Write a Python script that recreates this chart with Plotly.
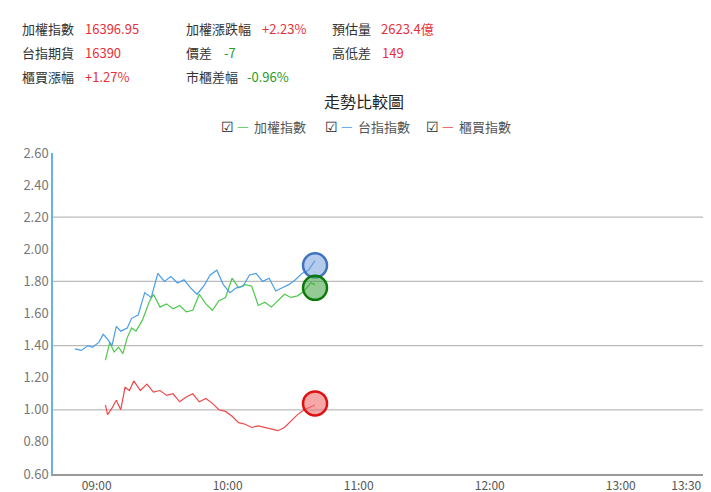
import plotly.graph_objects as go

D = "2024-01-01 "
blue_t = ["08:50","08:53","08:56","08:58","09:01","09:03","09:05","09:07","09:09","09:11","09:14","09:16","09:19","09:22","09:25","09:28","09:31","09:34","09:37","09:40","09:43","09:46","09:49","09:52","09:55","09:58","10:01","10:04","10:07","10:10","10:13","10:16","10:19","10:22","10:25","10:28","10:31","10:34","10:37","10:40"]
blue_v = [1.38,1.37,1.40,1.39,1.42,1.47,1.44,1.40,1.52,1.49,1.51,1.57,1.59,1.73,1.70,1.85,1.80,1.83,1.79,1.81,1.76,1.72,1.77,1.84,1.87,1.78,1.73,1.76,1.77,1.84,1.85,1.80,1.82,1.74,1.76,1.78,1.81,1.85,1.87,1.93]
green_t = ["09:04","09:06","09:08","09:10","09:12","09:14","09:16","09:18","09:21","09:24","09:26","09:29","09:32","09:35","09:38","09:41","09:44","09:47","09:50","09:53","09:56","09:59","10:02","10:05","10:08","10:11","10:14","10:17","10:20","10:23","10:26","10:29","10:32","10:35","10:38","10:40"]
green_v = [1.31,1.42,1.36,1.39,1.35,1.45,1.51,1.49,1.56,1.67,1.72,1.64,1.66,1.63,1.65,1.61,1.62,1.72,1.66,1.62,1.68,1.70,1.82,1.76,1.78,1.77,1.65,1.67,1.64,1.68,1.72,1.70,1.71,1.74,1.79,1.78]
red_t = ["09:04","09:05","09:07","09:09","09:11","09:13","09:15","09:17","09:20","09:23","09:26","09:29","09:32","09:35","09:38","09:41","09:44","09:47","09:50","09:53","09:56","09:59","10:02","10:05","10:08","10:11","10:14","10:17","10:20","10:23","10:26","10:29","10:32","10:35","10:38","10:40"]
red_v = [1.03,0.97,1.01,1.06,1.00,1.14,1.12,1.18,1.12,1.16,1.11,1.12,1.09,1.10,1.05,1.08,1.10,1.05,1.07,1.04,1.00,0.99,0.96,0.92,0.91,0.89,0.90,0.89,0.88,0.87,0.89,0.93,0.97,1.00,1.02,1.03]
end_t = "10:40"
end_v = {"green": 1.76, "blue": 1.90, "red": 1.04}
y_ticks = [0.6,0.8,1.0,1.2,1.4,1.6,1.8,2.0,2.2,2.4,2.6]
grid_vals = [1.0,1.4,1.8,2.2]
x_ticks = ["09:00","10:00","11:00","12:00","13:00","13:30"]

header = [
    ("加權指數","16396.95","#e8303a",12,75,20),
    ("台指期貨","16390","#e8303a",12,75,44),
    ("櫃買漲幅","+1.27%","#e8303a",12,75,68),
    ("加權漲跌幅","+2.23%","#e8303a",176,252,20),
    ("價差","-7","#2a9a2a",176,214,44),
    ("市櫃差幅","-0.96%","#2a9a2a",176,237,68),
    ("預估量","2623.4億","#e8303a",322,371,20),
    ("高低差","149","#e8303a",322,372,44),
]

FONT = "Noto Sans CJK TC"
W, H = 711, 492
ML, MR, MT, MB = 45, 0, 145, 26
PW, PH = W - ML - MR, H - MT - MB
fig = go.Figure()
for t, v, c in [(green_t, green_v, "#4cc94c"), (blue_t, blue_v, "#4a9ee8"), (red_t, red_v, "#f04848")]:
    fig.add_trace(go.Scatter(x=[D+s for s in t], y=v, mode="lines", line=dict(color=c, width=1.2), hoverinfo="skip"))
for k, fill, edge in [("blue","rgba(120,160,220,0.55)","#3f73c0"),("green","rgba(60,160,60,0.55)","#0b7a0b"),("red","rgba(240,110,110,0.6)","#e01010")]:
    fig.add_trace(go.Scatter(x=[D+end_t], y=[end_v[k]], mode="markers", cliponaxis=False,
                             marker=dict(size=24, color=fill, line=dict(color=edge, width=2.5)), hoverinfo="skip"))
for g in grid_vals:
    fig.add_shape(type="line", xref="paper", x0=0, x1=1, yref="y", y0=g, y1=g, line=dict(color="#bbbbbb", width=1.3), layer="below")

ann = []
def px(x, y, text, color="#333", size=13, anchor="left"):
    ann.append(dict(xref="paper", yref="paper", x=(x-ML)/PW, y=(H-MB-y)/PH, text=text, showarrow=False,
                    xanchor=anchor, yanchor="middle", font=dict(family=FONT, size=size, color=color)))
for lab, val, c, lx, vx, y in header:
    px(lx, y, lab)
    px(vx, y, val, c)
px(356, 93, "走勢比較圖", "#222", 16, "center")
for x0, name, c in [(211,"加權指數","#4cc94c"),(315,"台指指數","#4a9ee8"),(416,"櫃買指數","#f04848")]:
    px(x0, 118, "☑", "#222", 14)
    px(x0+16, 117, "—", c, 13)
    px(x0+33, 118, name, "#555", 13)

fig.update_layout(
    width=W, height=H, margin=dict(l=ML, r=MR, t=MT, b=MB),
    paper_bgcolor="white", plot_bgcolor="white", showlegend=False, annotations=ann,
    font=dict(family=FONT, size=13, color="#555"),
    xaxis=dict(type="date", range=[D+"08:40", D+"13:45"], tickvals=[D+s for s in x_ticks], ticktext=x_ticks,
               showgrid=False, showline=True, linecolor="#999", linewidth=1.5, ticks="", zeroline=False,
               tickfont=dict(size=12, color="#555")),
    yaxis=dict(range=[0.6, 2.6], tickvals=y_ticks, ticktext=[f"{v:.2f}" for v in y_ticks], showgrid=False,
               showline=True, linecolor="#6ab0e8", linewidth=1.5, ticks="", zeroline=False,
               tickfont=dict(size=13, color="#777")),
)
fig.write_html("out.html")
